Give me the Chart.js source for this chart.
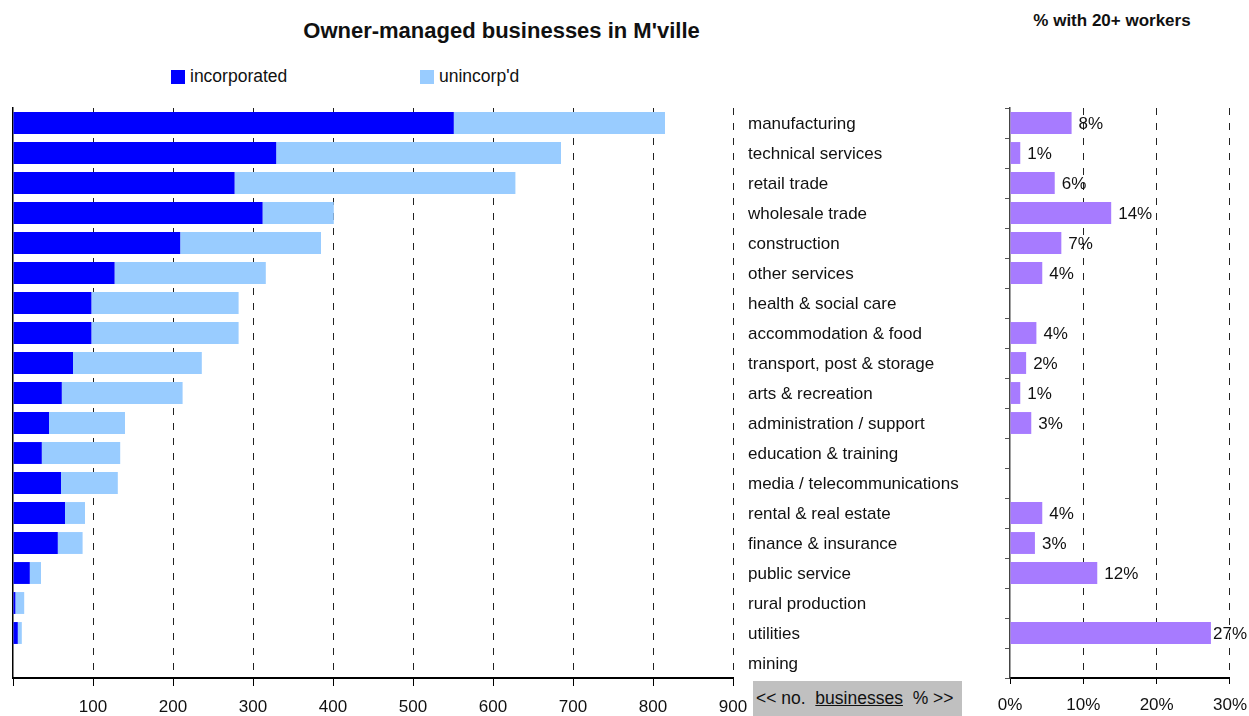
<!DOCTYPE html>
<html>
<head>
<meta charset="utf-8">
<script src="https://cdn.jsdelivr.net/npm/chart.js@4.4.1/dist/chart.umd.min.js"></script>
<style>
  body { margin: 0; background: #fff; font-family: "Liberation Sans", Arial, sans-serif; color: #111; }
  #wrap { position: relative; width: 1249px; height: 716px; overflow: hidden; }
  canvas { position: absolute; }
  .txt { position: absolute; white-space: nowrap; line-height: 1; }
  .sq { position: absolute; width: 14px; height: 14px; }
</style>
</head>
<body>
<div id="wrap">
  <div class="txt" style="left:0;width:1003px;top:20px;text-align:center;font-weight:bold;font-size:22px;">Owner-managed businesses in M'ville</div>
  <div class="txt" style="left:980px;width:264px;top:12px;text-align:center;font-weight:bold;font-size:17px;">% with 20+ workers</div>
  <div id="legend"></div>
  <div class="txt" style="left:753px;top:681px;width:209px;height:35px;background:#c0c0c0;font-size:17.5px;line-height:35px;padding-left:3px;box-sizing:border-box;">&lt;&lt; no.&nbsp; <u>businesses</u> &nbsp;% &gt;&gt;</div>
  <canvas id="left" width="1000" height="716" style="left:0;top:0;"></canvas>
  <canvas id="right" width="278" height="716" style="left:980px;top:0;"></canvas>
</div>
<script>
// Categories (top to bottom)
const categories = [
  "manufacturing", "technical services", "retail trade", "wholesale trade",
  "construction", "other services", "health & social care", "accommodation & food",
  "transport, post & storage", "arts & recreation", "administration / support",
  "education & training", "media / telecommunications", "rental & real estate",
  "finance & insurance", "public service", "rural production", "utilities", "mining"
];

// Number of businesses
const incorporated = [551, 329, 277, 312, 209, 127, 98, 98, 75, 61, 45, 36, 60, 65, 56, 21, 3, 6, 0];
const unincorporated = [264, 356, 351, 89, 176, 189, 184, 184, 161, 151, 95, 98, 71, 25, 31, 14, 11, 5, 0];

// % with 20+ workers
const pctLarge = [8.4, 1.4, 6.1, 13.8, 7.0, 4.4, null, 3.6, 2.2, 1.4, 2.9, null, null, 4.4, 3.4, 11.9, null, 27.4, null];

const seriesNames = ["incorporated", "unincorp'd"];
const seriesColors = ["#0000ff", "#99ccff"];
const pctColor = "#a77bff";

const FONT = "'Liberation Sans', Arial, sans-serif";
const dash = [7, 8];
const visibleRight = 269; // page edge, in right-canvas coords

// HTML legend built from the series
const legendPos = [171, 420];
const legend = document.getElementById("legend");
seriesNames.forEach((name, i) => {
  const sq = document.createElement("div");
  sq.className = "sq";
  sq.style.left = legendPos[i] + "px";
  sq.style.top = "70px";
  sq.style.background = seriesColors[i];
  legend.appendChild(sq);
  const t = document.createElement("div");
  t.className = "txt";
  t.style.left = (legendPos[i] + 19) + "px";
  t.style.top = "68px";
  t.style.fontSize = "17.5px";
  t.textContent = name;
  legend.appendChild(t);
});

// Left chart: stacked counts
new Chart(document.getElementById("left").getContext("2d"), {
  type: "bar",
  data: {
    labels: categories,
    datasets: [
      { label: seriesNames[0], data: incorporated, backgroundColor: seriesColors[0] },
      { label: seriesNames[1], data: unincorporated, backgroundColor: seriesColors[1] },
    ],
  },
  options: {
    indexAxis: "y",
    responsive: false,
    animation: false,
    barPercentage: 0.73,
    categoryPercentage: 1,
    layout: { padding: { left: 13, top: 108, right: 0, bottom: 0 } },
    plugins: { legend: { display: false }, tooltip: { enabled: false } },
    scales: {
      x: {
        stacked: true,
        min: 0,
        max: 900,
        ticks: {
          stepSize: 100,
          color: "#111",
          padding: 11,
          maxRotation: 0,
          font: { family: FONT, size: 17 },
          callback: (v) => (v === 0 ? "" : v),
        },
        grid: {
          color: (c) => (c.tick && c.tick.value === 0 ? "rgba(0,0,0,0)" : "#222"),
          tickColor: "#000",
          tickBorderDash: [],
          tickLength: 8,
        },
        border: { display: true, color: "#000", width: 2, dash: dash },
        afterFit: (s) => { s.height = 38; },
      },
      y: {
        stacked: true,
        position: "right",
        ticks: { color: "#111", padding: 15, labelOffset: 1, font: { family: FONT, size: 17 } },
        grid: { display: false, drawTicks: false },
        border: { display: false },
        afterFit: (s) => { s.width = 267; },
      },
      yl: {
        type: "category",
        position: "left",
        labels: categories,
        ticks: { display: false },
        grid: { display: false, drawTicks: false },
        border: { display: true, color: "#000", width: 1.5 },
        afterFit: (s) => { s.width = 0; },
      },
    },
  },
});

// value labels for the % bars
const pctLabels = {
  id: "pctLabels",
  afterDatasetsDraw(chart) {
    const ctx = chart.ctx;
    const meta = chart.getDatasetMeta(0);
    ctx.save();
    ctx.font = "17px " + FONT;
    ctx.fillStyle = "#111";
    ctx.textAlign = "left";
    ctx.textBaseline = "middle";
    meta.data.forEach((bar, i) => {
      const v = chart.data.datasets[0].data[i];
      if (v === null) return;
      const txt = Math.round(v) + "%";
      // keep the label inside the page
      const x = Math.min(bar.x + 7, visibleRight - 2 - ctx.measureText(txt).width);
      ctx.fillText(txt, x, bar.y + 1);
    });
    ctx.restore();
  },
};

// Right chart: % with 20+ workers
new Chart(document.getElementById("right").getContext("2d"), {
  type: "bar",
  data: {
    labels: categories,
    datasets: [{ label: "% with 20+ workers", data: pctLarge, backgroundColor: pctColor }],
  },
  options: {
    indexAxis: "y",
    responsive: false,
    animation: false,
    barPercentage: 0.73,
    categoryPercentage: 1,
    layout: { padding: { left: 30, top: 108, right: 11, bottom: 0 } },
    plugins: { legend: { display: false }, tooltip: { enabled: false } },
    scales: {
      x: {
        min: 0,
        max: 30,
        ticks: {
          stepSize: 10,
          color: "#111",
          padding: 11,
          maxRotation: 0,
          font: { family: FONT, size: 17 },
          callback: (v) => v + "%",
        },
        grid: {
          color: (c) => (c.tick && c.tick.value === 0 ? "rgba(0,0,0,0)" : "#222"),
          tickColor: "#000",
          tickBorderDash: [],
          tickLength: 6,
        },
        border: { display: true, color: "#000", width: 2, dash: dash },
        afterFit: (s) => { s.height = 38; },
      },
      y: {
        position: "left",
        ticks: { display: false },
        grid: { display: true, drawOnChartArea: false, drawTicks: true, tickLength: 5, color: "#555", offset: true },
        border: { display: true, color: "#444", width: 1.5 },
        afterFit: (s) => { s.width = 0; },
      },
    },
  },
  plugins: [pctLabels],
});
</script>
</body>
</html>
